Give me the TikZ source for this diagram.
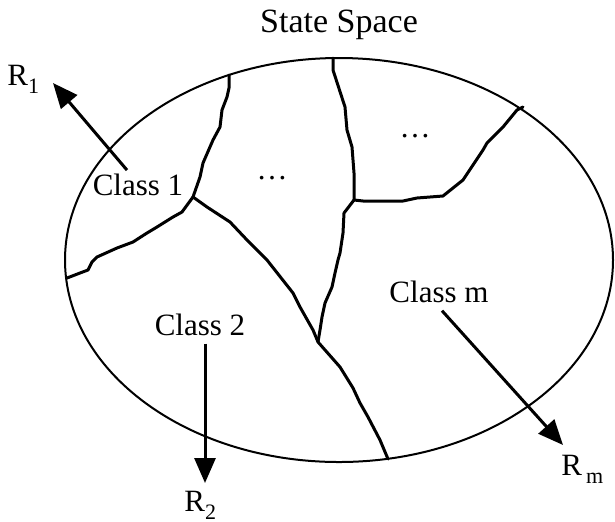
\documentclass[tikz,border=0pt]{standalone}
\usepackage{fontspec}
\setmainfont{Liberation Serif}
\usetikzlibrary{positioning, arrows.meta}
\newcommand{\rsub}[1]{R\raisebox{-4pt}{\fontsize{11}{13}\selectfont #1}}

\begin{document}
\begin{tikzpicture}[
    x=0.5pt, y=-0.5pt,
    border/.style={line width=1.5pt, line join=round, line cap=round},
    label/.style={inner sep=0pt, font=\fontsize{15.5}{18}\selectfont},
    arr/.style={line width=1.5pt, -{Triangle[length=12.5pt, width=10.5pt]}}
]
    \useasboundingbox (0,0) rectangle (615,521);

    % Espaco de estados
    \draw[line width=1pt] (339,260) ellipse [x radius=137pt, y radius=101pt];
    \node[label, anchor=base, font=\fontsize{17}{20}\selectfont] (title) at (339,32) {State Space};

    % Juncoes
    \coordinate (j1) at (193,197);
    \coordinate (j2) at (354,200);
    \coordinate (j3) at (318,342);

    % Fronteiras
    \draw[border] (j1) -- (200,177) -- (203,163) -- (213,140) -- (220,127) -- (222,110) -- (227,97) -- (229,88) -- (229,75);
    \draw[border] (j1) -- (182,212) -- (173,217) -- (157,227) -- (147,233) -- (133,242) -- (117,248) -- (97,257) -- (92,262) -- (88,270) -- (80,273) -- (67,278);
    \draw[border] (j1) -- (207,207) -- (230,222) -- (247,240) -- (267,260) -- (293,293) -- (300,307) -- (313,330) -- (j3);
    \draw[border] (j2) -- (354,173) -- (352,147) -- (347,130) -- (345,107) -- (333,70) -- (333,58);
    \draw[border] (j2) -- (363,201) -- (403,201) -- (417,198) -- (443,196) -- (463,180) -- (483,150) -- (487,143) -- (503,127) -- (517,110) -- (523,107);
    \draw[border] (j2) -- (344,213) -- (343,233) -- (340,253) -- (338,260) -- (335,273) -- (332,287) -- (325,303) -- (322,317) -- (320,330) -- (j3);
    \draw[border] (j3) -- (340,367) -- (353,388) -- (360,403) -- (368,417) -- (380,440) -- (388,459);

    % Classes
    \node[label, anchor=base] (c1) at (138,195) {Class 1};
    \node[label, anchor=base] (c2) at (200,335) {Class 2};
    \node[label, anchor=base] (cm) at (439,302) {Class m};
    \node[label, anchor=base] (d1) at (272,179) {…};
    \node[label, anchor=base] (d2) at (415,137) {…};

    % Recompensas
    \node[label, anchor=base west] (r1) at (7,85) {\rsub{1}};
    \node[label, anchor=base west] (r2) at (184,511) {\rsub{2}};
    \node[label, anchor=base west] (rm) at (561,475) {\rsub{\hspace{2pt}m}};

    % Setas
    \coordinate (t1) at (53,83);
    \coordinate (t2) at (205,483);
    \coordinate (tm) at (563,445);
    \draw[arr] (c1.north) ++(-11,-3) -- (t1);
    \draw[arr] (c2.south) ++(5,8) -- (t2);
    \draw[arr] (cm.south) ++(3,8) -- (tm);
\end{tikzpicture}
\end{document}
